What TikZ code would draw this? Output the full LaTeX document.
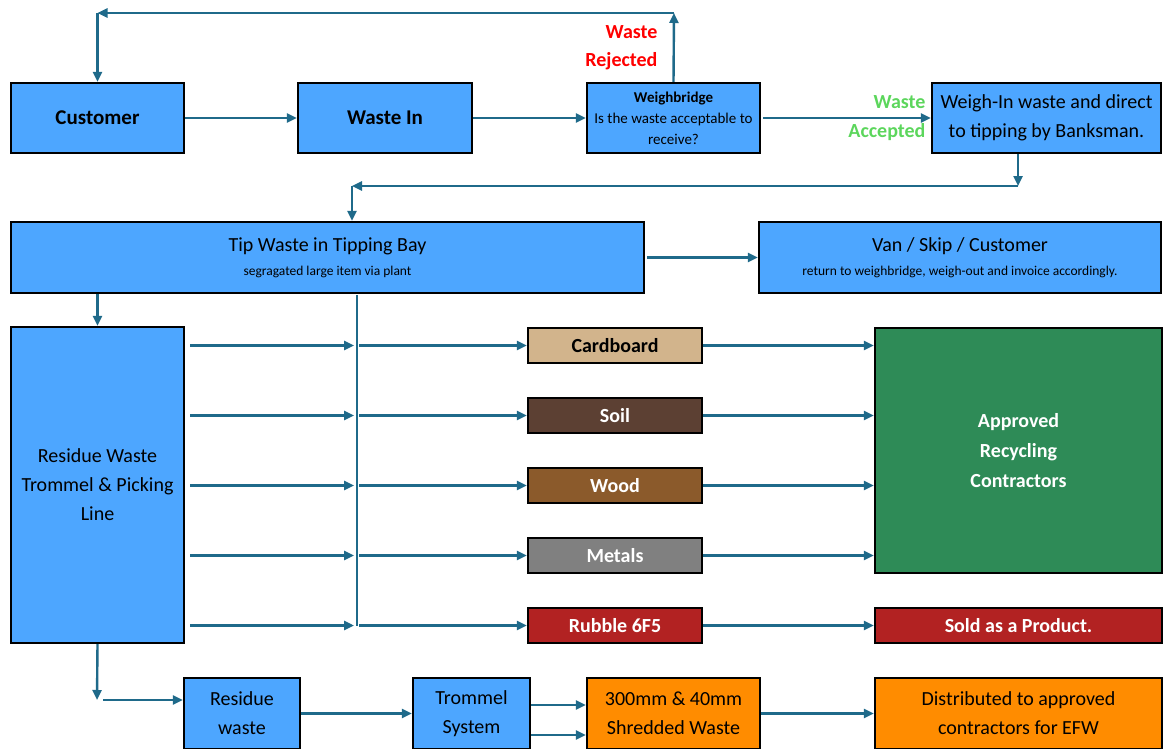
\documentclass[tikz,border=0pt]{standalone}
\usepackage{fontspec}
\setmainfont{Carlito}
\usetikzlibrary{arrows.meta}

\definecolor{boxblue}{HTML}{4DA6FF}
\definecolor{flowc}{HTML}{1F6A8A}
\definecolor{cardc}{HTML}{D2B48C}
\definecolor{soilc}{HTML}{5C4033}
\definecolor{woodc}{HTML}{8B5A2B}
\definecolor{metalc}{HTML}{808080}
\definecolor{rubblec}{HTML}{B22222}
\definecolor{greenc}{HTML}{2E8B57}
\definecolor{orangec}{HTML}{FF8C00}
\definecolor{rejred}{HTML}{FF0000}
\definecolor{accgreen}{HTML}{5CD65C}

\newcommand{\bigtxt}{\fontsize{20}{29}\selectfont}
\newcommand{\boldtxt}{\fontsize{20}{30}\selectfont\bfseries}
\newcommand{\subtxt}{\fontsize{13.5}{16}\selectfont}

\tikzset{
  box/.style={draw=black, line width=2.4pt, fill=boxblue, inner sep=0pt, align=center, font=\bigtxt},
  matbox/.style={box, minimum width=174, minimum height=35, text=white, font=\boldtxt},
  flow/.style={draw=flowc, line width=2.4pt, -{Triangle[length=10pt,width=9pt]}},
  plain/.style={draw=flowc, line width=2.4pt},
}

\begin{document}
\begin{tikzpicture}[x=1pt, y=-1pt]
    \useasboundingbox (0,0) rectangle (1164,749);

    % TOP ROW
    \node[box, minimum width=173, minimum height=70, font=\fontsize{21}{25}\selectfont\bfseries] (cust) at (97.5,118) {Customer};
    \node[box, minimum width=174, minimum height=70, font=\fontsize{21}{25}\selectfont\bfseries] (wastein) at (385,118) {Waste In};
    \node[box, minimum width=173, minimum height=70, font=\fontsize{15}{21}\selectfont] (wb) at (673.5,118) {\textbf{Weighbridge}\\ Is the waste acceptable to\\ receive?};
    \node[box, minimum width=229, minimum height=70] (wi) at (1046.5,118) {Weigh-In waste and direct\\ to tipping by Banksman.};

    \node[anchor=east, align=right, text=rejred, font=\fontsize{20}{28}\selectfont\bfseries] (rejlbl) at (661,48) {Waste\\ Rejected};
    \node[anchor=east, align=right, text=accgreen, font=\fontsize{20}{29}\selectfont\bfseries] (acclbl) at (929,118) {Waste\\ Accepted};

    % TIPPING
    \node[box, minimum width=633, minimum height=71] (tip) at (327.5,257.5) {Tip Waste in Tipping Bay\\[-5pt] \subtxt segragated large item via plant};
    \node[box, minimum width=402, minimum height=71] (van) at (960,257.5) {Van / Skip / Customer\\[-5pt] \subtxt return to weighbridge, weigh-out and invoice accordingly.};

    % PICKING LINE
    \node[box, minimum width=173, minimum height=316] (resid) at (97.5,485) {Residue Waste\\ Trommel \& Picking\\ Line};

    \node[matbox, fill=cardc, text=black] (card) at (615,345.5) {Cardboard};
    \node[matbox, fill=soilc] (soil) at (615,415.5) {Soil};
    \node[matbox, fill=woodc] (wood) at (615,485.5) {Wood};
    \node[matbox, fill=metalc] (metal) at (615,555.5) {Metals};
    \node[matbox, fill=rubblec] (rubble) at (615,625.5) {Rubble 6F5};

    \node[box, fill=greenc, text=white, minimum width=287, minimum height=245, font=\boldtxt] (appr) at (1018.5,450.5) {Approved\\ Recycling\\ Contractors};
    \node[box, fill=rubblec, text=white, minimum width=287, minimum height=35, font=\boldtxt] (sold) at (1018.5,625.5) {Sold as a Product.};

    % BOTTOM ROW
    \node[box, minimum width=116, minimum height=71] (resw) at (242,713.5) {Residue\\ waste};
    \node[box, minimum width=117, minimum height=71] (trom) at (471.5,713.5) {Trommel\\ System};
    \node[box, fill=orangec, minimum width=173, minimum height=71] (shred) at (673.5,713.5) {300mm \& 40mm\\ Shredded Waste};
    \node[box, fill=orangec, minimum width=287, minimum height=71] (dist) at (1018.5,713.5) {Distributed to approved\\ contractors for EFW};

    % CONNECTORS
    \coordinate (rej) at (674,13);
    \coordinate (drop) at (1018,186);
    \coordinate (turn) at (352,186);
    \coordinate (split) at (357,295);
    \coordinate (rbend) at (97,700);

    \draw[flow] (cust) -- (wastein);
    \draw[flow] (wastein) -- (wb);
    \draw[flow, shorten <=2pt] (wb) -- (wi);

    \draw[flow] (wb.north) -- (rej);
    \draw[flow] (rej) -- (rej -| cust.north);
    \draw[flow] (rej -| cust.north) -- (cust.north);

    \draw[flow] (drop |- wi.south) -- (drop);
    \draw[flow] (drop) -- (turn);
    \draw[flow] (turn) -- (turn |- tip.north);

    \draw[flow, shorten <=2pt] (tip) -- (van);
    \draw[flow] (tip.south -| resid.north) -- (resid.north);

    \draw[plain] (split) -- (split |- rubble.west);
    \foreach \m in {card,soil,wood,metal,rubble} {
        \draw[flow, shorten <=5pt, shorten >=3pt] (resid.east |- \m.west) -- (split |- \m.west);
        \draw[flow, shorten <=2pt] (split |- \m.west) -- (\m.west);
    }
    \foreach \m in {card,soil,wood,metal} {
        \draw[flow] (\m.east) -- (appr.west |- \m.east);
    }
    \draw[flow] (rubble) -- (sold);

    \draw[flow] (resid.south) -- (rbend);
    \draw[flow, shorten <=6pt] (rbend) -- (rbend -| resw.west);
    \draw[flow] (resw) -- (trom);
    \draw[flow] ([yshift=8.5pt]trom.east) -- ([yshift=8.5pt]trom.east -| shred.west);
    \draw[flow] ([yshift=-21.5pt]trom.east) -- ([yshift=-21.5pt]trom.east -| shred.west);
    \draw[flow] (shred) -- (dist);

\end{tikzpicture}
\end{document}
